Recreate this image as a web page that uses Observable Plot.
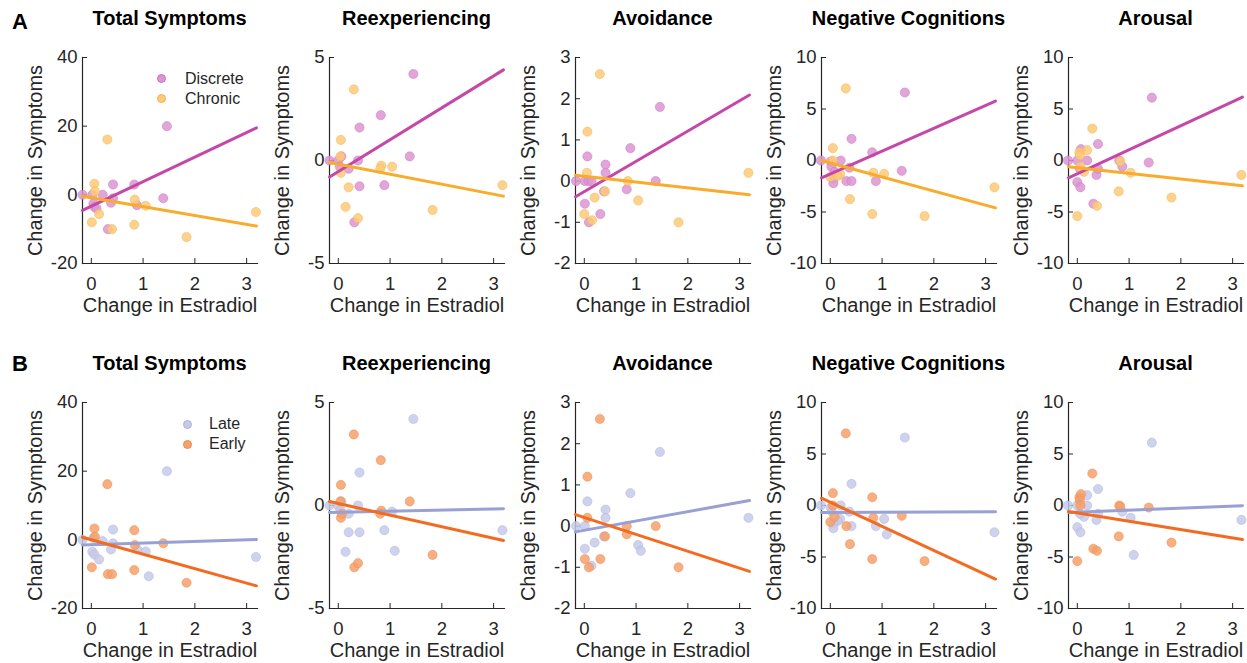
<!DOCTYPE html>
<html>
<head>
<meta charset="utf-8">
<script src="https://cdn.jsdelivr.net/npm/d3@7"></script>
<script src="https://cdn.jsdelivr.net/npm/@observablehq/plot@0.6"></script>
<style>
  html, body { margin: 0; padding: 0; background: #fff; }
  body { font-family: "Liberation Sans", Arial, Helvetica, sans-serif; }
  #chart { position: relative; width: 1247px; height: 663px; overflow: hidden; }
  .abs { position: absolute; white-space: nowrap; }
  .title { font-weight: bold; font-size: 20px; line-height: 20px; color: #000; transform: translateX(-50%); }
  .rowlab { font-weight: bold; font-size: 22px; line-height: 22px; color: #000; }
  .legtext { font-size: 16px; line-height: 16px; color: #262626; }
  .legdot { width: 9px; height: 9px; border-radius: 50%; box-sizing: border-box; }
  svg { overflow: visible; }
</style>
</head>
<body>
<div id="chart"></div>
<script>
// ---------- data ----------
const measures = ["Total Symptoms", "Reexperiencing", "Avoidance", "Negative Cognitions", "Arousal"];
const yDomains = [[-20, 40], [-5, 5], [-2, 3], [-10, 10], [-10, 10]];
const yTicks = [[-20, 0, 20, 40], [-5, 0, 5], [-2, -1, 0, 1, 2, 3], [-10, -5, 0, 5, 10], [-10, -5, 0, 5, 10]];
const xDomain = [-0.17, 3.21];
const xTicks = [0, 1, 2, 3];
const rowLabels = ["A", "B"];
const groupNamesA = ["Discrete", "Chronic"];
const groupNamesB = ["Late", "Early"];
const xLabel = "Change in Estradiol";
const yLabel = "Change in Symptoms";

// Row A: Discrete vs Chronic, points as [estradiol change, symptom change]
const discreteTotal = [[-0.17,0],[0.02,0],[0.04,-2.5],[0.06,-3.5],[0.1,-4],[0.22,0],[0.38,-2.3],[0.42,3],[0.42,-1],[0.32,-10],[0.83,3],[0.88,-3],[1.39,-1],[1.46,20]];
const chronicTotal = [[0.06,3.2],[0.07,1],[0.01,-8],[0.15,-5.6],[0.31,16.1],[0.40,-10],[0.84,-1.4],[0.83,-8.7],[1.05,-3.2],[1.84,-12.3],[3.18,-5]];
const discreteReexp = [[-0.17,0],[0.0,0],[0.06,0.2],[0.03,-0.3],[0.2,-0.4],[0.38,0],[0.41,1.6],[0.41,-1.25],[0.31,-3],[0.82,2.2],[0.89,-1.2],[1.38,0.2],[1.45,4.2]];
const chronicReexp = [[0.05,1.0],[0.05,-0.6],[0.04,0.2],[0.2,-1.3],[0.14,-2.25],[0.3,3.45],[0.38,-2.8],[0.83,-0.25],[0.81,-0.4],[1.04,-0.3],[1.82,-2.4],[3.17,-1.2]];
const discreteAvoid = [[-0.16,0],[0.01,0],[0.08,0],[0.06,0.6],[0.01,-0.55],[0.09,-1.0],[0.14,0],[0.31,-0.8],[0.38,-0.25],[0.41,0.4],[0.41,0.2],[0.82,-0.2],[0.89,0.8],[1.38,0],[1.46,1.8]];
const chronicAvoid = [[0.06,1.2],[0.05,0.2],[0.0,-0.8],[0.15,-0.95],[0.2,-0.4],[0.3,2.6],[0.4,-0.25],[0.84,0],[1.04,-0.47],[1.82,-1.0],[3.17,0.2]];
const discreteNegCog = [[-0.18,0],[0.01,-0.1],[0.02,-0.6],[0.08,-1.1],[0.06,-1.75],[0.06,-2.2],[0.2,0],[0.31,-2.0],[0.41,-2.0],[0.41,2.1],[0.37,-0.7],[0.81,0.8],[0.88,-2.0],[1.38,-1.0],[1.44,6.6]];
const chronicNegCog = [[0.05,1.2],[0.05,0],[0.0,-1.6],[0.19,-1.3],[0.14,-1.5],[0.3,7.0],[0.38,-3.75],[0.83,-1.2],[0.81,-5.2],[1.04,-1.3],[1.82,-5.4],[3.17,-2.6]];
const discreteArousal = [[-0.18,0],[0,0],[0.07,1.1],[0.05,-0.8],[0,-2.1],[0.06,-2.6],[0.19,0],[0.31,-4.2],[0.37,-1.4],[0.4,1.6],[0.4,-0.8],[0.81,0],[0.87,-0.6],[1.38,-0.2],[1.44,6.1]];
const chronicArousal = [[0.04,0.8],[0.05,0.5],[0.06,-0.6],[0,-5.4],[0.13,-1.1],[0.19,1.0],[0.29,3.1],[0.38,-4.4],[0.83,-0.1],[0.8,-3.0],[1.03,-1.2],[1.82,-3.6],[3.17,-1.4]];

// Row B: Late vs Early
const lateTotal = [[-0.17,0],[0.02,-3.5],[0.04,0.5],[0.06,-4.3],[0.15,-5.7],[0.22,-0.4],[0.42,3],[0.42,-1],[0.38,-2.8],[0.89,-2.8],[1.05,-3.4],[1.11,-10.6],[1.46,20],[3.18,-5]];
const earlyTotal = [[0.06,3.3],[0.07,0.9],[0.01,-8],[0.31,16.2],[0.32,-10],[0.40,-10],[0.83,2.8],[0.84,-1.5],[0.83,-8.8],[1.39,-1],[1.84,-12.5]];
const lateReexp = [[-0.17,0],[0.0,0],[0.06,0.2],[0.04,-0.2],[0.2,-0.4],[0.38,0],[0.41,1.6],[0.41,-1.3],[0.2,-1.3],[0.14,-2.25],[0.89,-1.2],[1.04,-0.3],[1.09,-2.2],[1.45,4.2],[3.17,-1.2]];
const earlyReexp = [[0.05,1.0],[0.04,0.2],[0.05,-0.6],[0.07,-0.4],[0.3,3.45],[0.31,-3.0],[0.38,-2.8],[0.82,2.2],[0.83,-0.25],[0.81,-0.4],[1.38,0.2],[1.82,-2.4]];
const lateAvoid = [[-0.16,0],[0.01,0],[0.06,0.6],[0.01,-0.55],[0.14,-0.96],[0.2,-0.4],[0.38,-0.25],[0.41,0.4],[0.41,0.2],[0.89,0.8],[1.04,-0.46],[1.09,-0.6],[1.46,1.8],[3.17,0.2]];
const earlyAvoid = [[0.06,1.2],[0.06,0.2],[0.01,-0.8],[0.09,-1.0],[0.3,2.6],[0.31,-0.8],[0.4,-0.25],[0.82,0],[0.82,-0.2],[1.38,0],[1.82,-1.0]];
const lateNegCog = [[-0.18,0],[0.01,-0.2],[0.03,-0.6],[0.2,0],[0.19,-1.3],[0.14,-1.5],[0.06,-1.75],[0.06,-2.2],[0.37,-0.6],[0.41,2.1],[0.41,-2.0],[0.88,-2.0],[1.04,-1.3],[1.09,-2.8],[1.44,6.6],[3.17,-2.6]];
const earlyNegCog = [[0.05,1.2],[0.05,0],[0.0,-1.6],[0.08,-1.1],[0.3,7.0],[0.31,-2.0],[0.38,-3.75],[0.81,0.8],[0.83,-1.2],[0.81,-5.2],[1.38,-1.0],[1.82,-5.4]];
const lateArousal = [[-0.18,0],[0,0],[0.19,1.0],[0.19,0],[0.13,-1.1],[0.05,-0.8],[0,-2.1],[0.06,-2.6],[0.37,-1.4],[0.4,1.6],[0.4,-0.8],[0.87,-0.6],[1.03,-1.2],[1.09,-4.8],[1.44,6.1],[3.17,-1.4]];
const earlyArousal = [[0.04,0.8],[0.07,1.1],[0.05,0.5],[0.06,0],[0,-5.4],[0.29,3.1],[0.31,-4.2],[0.38,-4.4],[0.81,0],[0.83,-0.1],[0.8,-3.0],[1.38,-0.2],[1.82,-3.6]];

// Fitted lines: symptom change at the two ends of fitX, per measure
const fitX = [-0.17, 3.19];
const discreteFit = [[-4.5, 19.5], [-0.8, 4.4], [-0.38, 2.09], [-1.68, 5.76], [-1.68, 6.15]];
const chronicFit = [[-0.4, -9.1], [-0.1, -1.73], [0.14, -0.33], [0, -4.6], [-0.6, -2.46]];
const lateFit = [[-1.5, 0.08], [-0.34, -0.16], [-0.14, 0.62], [-0.68, -0.6], [-0.68, -0.03]];
const earlyFit = [[0.76, -13.4], [0.19, -1.7], [0.28, -1.1], [0.71, -7.14], [-0.58, -3.3]];

// ---------- styles ----------
const FONT = '"Liberation Sans", Arial, Helvetica, sans-serif';
const INK = "#262626";
const groupStyles = {
  Discrete: {line: "#c548a8", fill: "#dc95d3", stroke: "#c873bb"},
  Chronic:  {line: "#f9ab2b", fill: "#fdca78", stroke: "#f2b04e"},
  Late:     {line: "#99a0d3", fill: "#c6cae9", stroke: "#adb3dd"},
  Early:    {line: "#f36b20", fill: "#f6a06a", stroke: "#ec8a4e"}
};
const rows = [
  {names: groupNamesA,
   pts: [[discreteTotal, discreteReexp, discreteAvoid, discreteNegCog, discreteArousal],
         [chronicTotal, chronicReexp, chronicAvoid, chronicNegCog, chronicArousal]],
   fits: [discreteFit, chronicFit]},
  {names: groupNamesB,
   pts: [[lateTotal, lateReexp, lateAvoid, lateNegCog, lateArousal],
         [earlyTotal, earlyReexp, earlyAvoid, earlyNegCog, earlyArousal]],
   fits: [lateFit, earlyFit]}
];

// ---------- layout ----------
const colLeft = [82, 329, 575, 821, 1068];
const rowTop = [57, 402];
const plotW = 175, plotH = 206;
const mL = 70, mR = 4, mT = 10, mB = 60;
const fmt = d => String(d);

const chart = document.getElementById("chart");

function addDiv(cls, text, left, top) {
  const d = document.createElement("div");
  d.className = "abs " + cls;
  d.textContent = text;
  d.style.left = left + "px";
  d.style.top = top + "px";
  chart.appendChild(d);
  return d;
}

rows.forEach((row, r) => {
  measures.forEach((m, c) => {
    const marks = [
      Plot.frame({anchor: "left", stroke: INK, strokeWidth: 1.2}),
      Plot.frame({anchor: "bottom", stroke: INK, strokeWidth: 1.2}),
      Plot.tickX(xTicks, {x: d => d, insetTop: plotH - 5, stroke: INK}),
      Plot.tickY(yTicks[c], {y: d => d, insetRight: plotW - 5, stroke: INK}),
      Plot.axisX({ticks: xTicks, tickFormat: fmt, tickSize: 0, tickPadding: 13, label: null}),
      Plot.axisY({ticks: yTicks[c], tickFormat: fmt, tickSize: 0, tickPadding: 5, label: null}),
      Plot.text([xLabel], {frameAnchor: "bottom", dy: 42, textAnchor: "middle", lineAnchor: "middle", fontSize: 20, fill: INK}),
      Plot.text([yLabel], {frameAnchor: "left", dx: -47, rotate: -90, textAnchor: "middle", lineAnchor: "middle", fontSize: 20, fill: INK})
    ];
    row.names.forEach((g, gi) => {
      const s = groupStyles[g];
      marks.push(Plot.dot(row.pts[gi][c], {x: d => d[0], y: d => d[1], r: 4.6, fill: s.fill, fillOpacity: 0.85, stroke: s.stroke, strokeWidth: 0.8, strokeOpacity: 0.6}));
    });
    row.names.forEach((g, gi) => {
      const s = groupStyles[g];
      const lineData = fitX.map((x, i) => ({x, y: row.fits[gi][c][i]}));
      marks.push(Plot.line(lineData, {x: "x", y: "y", stroke: s.line, strokeWidth: 3}));
    });
    const svg = Plot.plot({
      width: mL + plotW + mR,
      height: mT + plotH + mB,
      marginLeft: mL, marginRight: mR, marginTop: mT, marginBottom: mB,
      x: {domain: xDomain},
      y: {domain: yDomains[c]},
      style: {fontFamily: FONT, fontSize: "18.5px", color: INK, background: "transparent", overflow: "visible"},
      marks
    });
    svg.style.position = "absolute";
    svg.style.left = (colLeft[c] - mL) + "px";
    svg.style.top = (rowTop[r] - mT) + "px";
    chart.appendChild(svg);

    // panel title
    addDiv("title", m, colLeft[c] + plotW / 2, r === 0 ? 8 : 353);
  });
});

// row labels
addDiv("rowlab", rowLabels[0], 12, 10.5);
addDiv("rowlab", rowLabels[1], 12, 353);

// legends (inside first panel of each row)
function addLegend(names, dotX, textX, y0) {
  names.forEach((g, i) => {
    const s = groupStyles[g];
    const cy = y0 + i * 20;
    const dot = document.createElement("div");
    dot.className = "abs legdot";
    dot.style.left = (dotX - 4.5) + "px";
    dot.style.top = (cy - 4.5) + "px";
    dot.style.background = s.fill;
    dot.style.border = "0.8px solid " + s.stroke;
    chart.appendChild(dot);
    addDiv("legtext", g, textX, cy - 7.8);
  });
}
addLegend(groupNamesA, 161.7, 185, 78.5);
addLegend(groupNamesB, 187, 209, 424);
</script>
</body>
</html>
